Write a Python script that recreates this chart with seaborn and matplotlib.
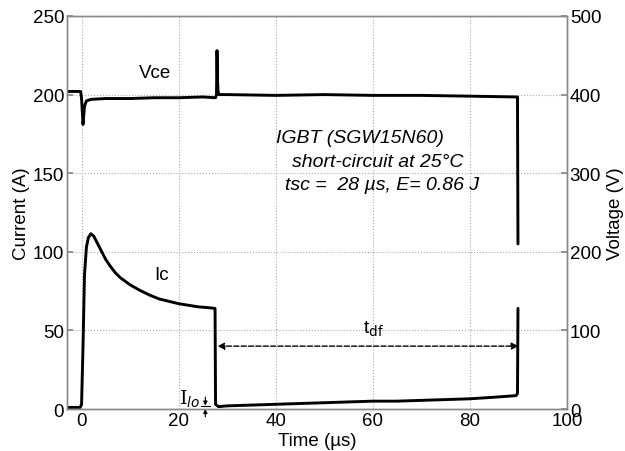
import matplotlib
matplotlib.use("Agg")
import matplotlib.pyplot as plt
import seaborn as sns
import pandas as pd

# ---- data ----
t_ic = [-3, -0.3, 0.0, 0.3, 0.6, 1.0, 1.4, 1.9, 2.5, 3.0, 4.0, 5.0, 6.0, 7.0, 8.0,
        10.0, 12.0, 14.0, 16.0, 18.0, 20.0, 22.0, 24.0, 26.0, 27.5, 27.6, 28.2,
        30, 35, 40, 45, 50, 55, 60, 65, 70, 75, 80, 85, 89.5, 89.8, 89.9]
ic = [1, 1, 3, 40, 85, 103, 109, 111.5, 110, 107, 101, 95, 90.5, 86.5, 83.5,
      79, 75.5, 72.5, 70, 68.5, 67, 66, 65, 64.5, 64, 3, 1.5,
      2, 2.5, 3, 3.5, 4, 4.5, 5, 5, 5.5, 6, 6.5, 7.5, 8.5, 10, 64]

t_vce = [-3, -0.2, 0.0, 0.3, 0.6, 1.0, 2.0, 5.0, 10.0, 15.0, 20.0, 25.0, 27.6,
         27.8, 27.9, 28.0, 28.1, 28.3, 30, 40, 50, 60, 70, 80, 89.5, 89.8, 89.9]
vce = [404, 404, 395, 362, 385, 392, 394, 395, 395, 396, 396, 397, 396,
       400, 456, 420, 405, 400, 400, 399, 400, 399, 399, 398, 397, 397, 210]

x_ticks = [0, 20, 40, 60, 80, 100]
i_ticks = [0, 50, 100, 150, 200, 250]
v_ticks = [0, 100, 200, 300, 400, 500]

sns.set_theme(style="white")
plt.rcParams['font.family'] = ['Liberation Sans', 'DejaVu Sans']
plt.rcParams['text.color'] = 'black'
plt.rcParams['axes.labelcolor'] = 'black'

fig = plt.figure(figsize=(6.25, 4.52), dpi=100)
ax = fig.add_axes([0.1072, 0.0929, 0.8, 0.8695])
ax2 = ax.twinx()

df_i = pd.DataFrame({"t": t_ic, "ic": ic})
df_v = pd.DataFrame({"t": t_vce, "vce": vce})
sns.lineplot(data=df_i, x="t", y="ic", ax=ax, color="black", lw=2.1, sort=False, estimator=None)
sns.lineplot(data=df_v, x="t", y="vce", ax=ax2, color="black", lw=2.1, sort=False, estimator=None)

ax.set_xlim(-3, 100)
ax.set_ylim(0, 250)
ax2.set_ylim(0, 500)
ax.set_xticks(x_ticks)
ax.set_yticks(i_ticks)
ax2.set_yticks(v_ticks)
ax.set_xticklabels([str(v) for v in x_ticks])
ax.set_yticklabels([str(v) for v in i_ticks])
ax2.set_yticklabels([str(v) for v in v_ticks])

ax.grid(True, color="#aaaaaa", linestyle=":", linewidth=0.8)
ax2.grid(False)
for a in (ax, ax2):
    for s in a.spines.values():
        s.set_color("#888888")
        s.set_linewidth(1.0)
    a.tick_params(labelsize=13.5, length=4, direction="in", color="#888888",
                  labelcolor="black", pad=2)

ax.set_xlabel("Time (µs)", fontsize=13.5, labelpad=2, color="black")
ax.set_ylabel("Current (A)", fontsize=13.5, labelpad=2, color="black")
ax2.set_ylabel("Voltage (V)", fontsize=13.5, labelpad=4, color="black")

ax.text(15.2, 214, "Vce", fontsize=13.5, ha="center", va="center")
ax.text(16.5, 85.5, "Ic", fontsize=13.5, ha="center", va="center")
ax.text(40.0, 172.6, "IGBT (SGW15N60)", fontsize=14, style="italic", ha="left", va="center")
ax.text(43.3, 157.3, "short-circuit at 25°C", fontsize=14, style="italic", ha="left", va="center")
ax.text(42.0, 142.7, "tsc =  28 µs, E= 0.86 J", fontsize=14, style="italic", ha="left", va="center")

# t_df double arrow
ax.annotate("", xy=(90, 40), xytext=(28, 40),
            arrowprops=dict(arrowstyle="<|-|>", linestyle="--", color="black", lw=1.0,
                            shrinkA=0, shrinkB=0, mutation_scale=10))
ax.text(58, 51, r"t$_{\rm df}$", fontsize=14, ha="left", va="center")

# I_lo marker
ax.annotate("", xy=(25.5, 2.2), xytext=(25.5, 7.5),
            arrowprops=dict(arrowstyle="-|>", color="black", lw=0.8, shrinkA=0, shrinkB=0, mutation_scale=6))
ax.annotate("", xy=(25.5, 0), xytext=(25.5, -5),
            arrowprops=dict(arrowstyle="-|>", color="black", lw=0.8, shrinkA=0, shrinkB=0, mutation_scale=6),
            annotation_clip=False)
ax.plot([24.6, 26.4], [2.2, 2.2], color="black", lw=0.8)
ax.text(24.5, 6.5, r"I$_{\mathit{lo}}$", fontsize=14, family="DejaVu Serif", ha="right", va="center")

fig.savefig("out.png", dpi=100)
